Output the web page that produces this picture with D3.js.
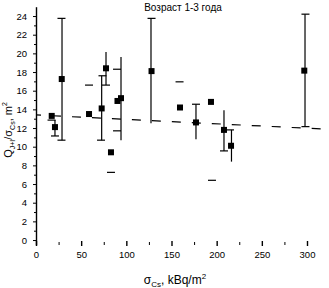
<!DOCTYPE html>
<html>
<head>
<meta charset="UTF-8">
<script src="https://d3js.org/d3.v7.min.js"></script>
<style>
  body { margin: 0; background: #fff; }
  svg { display: block; }
  .tick text { font-family: "Liberation Sans Narrow", "Liberation Sans", Arial, sans-serif; font-size: 9.5px; }
  .lbl { font-family: "Liberation Sans", Arial, sans-serif; fill: #000; }
</style>
</head>
<body>
<svg id="chart" width="329" height="288"></svg>
<script>
// measured points: [σCs kBq/m2, Q/σ m2]
const points = [
  [17.4, 13.3], [21.0, 12.1], [28.5, 17.25], [58.7, 13.5], [72.7, 14.1],
  [77.5, 18.4], [83.0, 9.4], [90.2, 14.9], [94.1, 15.2], [127.9, 18.1],
  [159.4, 14.2], [177.1, 12.6], [193.7, 14.8], [208.1, 11.8], [215.9, 10.1],
  [297.0, 18.15]
];
// vertical error lines: [x, low, high]
const bars = [
  [21.0, 11.15, 12.85], [28.8, 10.7, 23.75], [72.7, 10.7, 17.6],
  [77.5, 16.6, 20.15], [94.1, 10.7, 19.6], [127.3, 12.5, 23.75],
  [177.1, 10.8, 14.55], [208.1, 9.55, 13.9], [216.4, 8.4, 11.8],
  [297.8, 12.15, 24.2]
];
// short horizontal caps: [x centre, y]
const caps = [
  [21.0, 11.15], [17.2, 12.85], [28.2, 10.7], [28.2, 23.75],
  [73.6, 17.6], [72.0, 10.7], [77.5, 16.6],
  [89.7, 18.3], [89.7, 11.7],
  [58.7, 16.6], [83.0, 7.25], [158.9, 16.95], [194.8, 6.4],
  [127.9, 23.75], [177.1, 14.55], [208.1, 9.55], [214.8, 11.8],
  [298.3, 24.2], [298.3, 12.15]
];
// regression line end points
const fitLine = [[0, 13.4], [316.5, 11.9]];

const xMajor = [0, 50, 100, 150, 200, 250, 300];
const xMinor = [25, 75, 125, 175, 225, 275, 325];
const yMajor = [0, 2, 4, 6, 8, 10, 12, 14, 16, 18, 20, 22, 24];
const yMinor = [1, 3, 5, 7, 9, 11, 13, 15, 17, 19, 21, 23];

const svg = d3.select("#chart");

const x = d3.scaleLinear().domain([0, 300]).range([36, 307]);
const y = d3.scaleLinear().domain([-0.5, 25]).range([244.7, 6.7]);

// y axis
const yAx = svg.append("g").attr("transform", "translate(36,0)")
  .call(d3.axisLeft(y).tickValues(yMajor).tickSize(3).tickSizeOuter(0).tickPadding(6).tickFormat(d3.format("d")));
svg.append("g").attr("transform", "translate(36,0)")
  .call(d3.axisLeft(y).tickValues(yMinor).tickSize(2).tickFormat(""))
  .select(".domain").remove();
yAx.select(".domain").attr("stroke-width", 1.4);

// x axis (ticks only)
const xAx = svg.append("g").attr("transform", "translate(0,241)")
  .call(d3.axisBottom(x).tickValues(xMajor).tickSize(5).tickPadding(5));
xAx.select(".domain").remove();
xAx.selectAll(".tick line").attr("stroke-width", 1.4);
const xMin = svg.append("g").attr("transform", "translate(0,242)")
  .call(d3.axisBottom(x).tickValues(xMinor).tickSize(3).tickFormat(""));
xMin.select(".domain").remove();

// dashed regression line
svg.append("line")
  .attr("x1", x(fitLine[0][0])).attr("y1", y(fitLine[0][1]))
  .attr("x2", x(fitLine[1][0])).attr("y2", y(fitLine[1][1]))
  .attr("stroke", "#000").attr("stroke-width", 1.2)
  .attr("stroke-dasharray", "9,11").attr("stroke-dashoffset", 4);

// error lines
svg.selectAll(".bar").data(bars).enter().append("line")
  .attr("x1", d => x(d[0])).attr("x2", d => x(d[0]))
  .attr("y1", d => y(d[1])).attr("y2", d => y(d[2]))
  .attr("stroke", "#000").attr("stroke-width", 1.2);

svg.selectAll(".cap").data(caps).enter().append("line")
  .attr("x1", d => x(d[0]) - 4).attr("x2", d => x(d[0]) + 4)
  .attr("y1", d => y(d[1])).attr("y2", d => y(d[1]))
  .attr("stroke", "#000").attr("stroke-width", 1.2);

// markers
svg.selectAll(".pt").data(points).enter().append("rect")
  .attr("x", d => x(d[0]) - 3).attr("y", d => y(d[1]) - 3)
  .attr("width", 6).attr("height", 6).attr("fill", "#000");

// title
svg.append("text").attr("class", "lbl")
  .attr("x", 183).attr("y", 11).attr("text-anchor", "middle")
  .attr("font-size", 10).text("Возраст 1-3 года");

// x label
const xl = svg.append("text").attr("class", "lbl")
  .attr("x", 175).attr("y", 284).attr("text-anchor", "middle").attr("font-size", 12);
xl.append("tspan").text("σ");
xl.append("tspan").attr("font-size", 8).attr("dy", 3).text("Cs");
xl.append("tspan").attr("dy", -3).text(", kBq/m");
xl.append("tspan").attr("font-size", 8).attr("dy", -5).text("2");

// y label
const yl = svg.append("text").attr("class", "lbl")
  .attr("transform", "translate(12,130) rotate(-90)")
  .attr("text-anchor", "middle").attr("font-size", 11);
yl.append("tspan").text("Q");
yl.append("tspan").attr("font-size", 7).attr("dy", 3).text("J+I");
yl.append("tspan").attr("dy", -3).text("/σ");
yl.append("tspan").attr("font-size", 7).attr("dy", 3).text("Cs");
yl.append("tspan").attr("dy", -3).text(", m");
yl.append("tspan").attr("font-size", 7).attr("dy", -5).text("2");
</script>
</body>
</html>
